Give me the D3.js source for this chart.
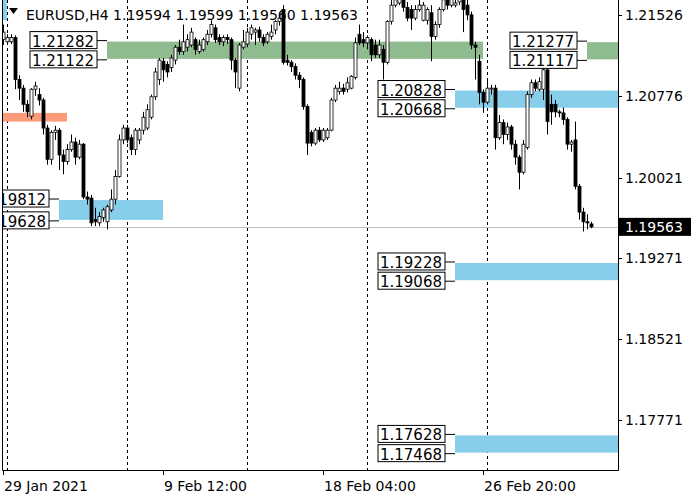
<!DOCTYPE html>
<html>
<head>
<meta charset="utf-8">
<script src="https://cdn.jsdelivr.net/npm/d3@7"></script>
<style>
  body { margin: 0; background: #fff; }
  text { font-family: "DejaVu Sans", sans-serif; }
</style>
</head>
<body>
<div id="chart"></div>
<script>
// DATA =============================================
const symbol = "EURUSD,H4";
const lastQuote = ["1.19594", "1.19599", "1.19560", "1.19563"];
const lastPrice = 1.19563;

const opens = [1.2130,1.2128,1.2128,1.2132,1.2093,1.2085,1.2070,1.2059,1.2084,1.2079,1.2074,1.2048,1.2019,1.2044,1.2046,1.2023,1.2017,1.2028,1.2035,1.2021,
  1.2033,1.1984,1.1983,1.1963,1.1960,1.1965,1.1961,1.1972,1.1982,1.2003,1.2037,1.2048,1.2039,1.2028,1.2037,1.2046,1.2048,1.2058,1.2077,1.2093,
  1.2110,1.2107,1.2104,1.2111,1.2123,1.2119,1.2123,1.2125,1.2130,1.2119,1.2121,1.2128,1.2135,1.2141,1.2132,1.2128,1.2132,1.2130,1.2111,1.2085,
  1.2123,1.2126,1.2135,1.2137,1.2139,1.2132,1.2128,1.2133,1.2139,1.2147,1.2158,1.2111,1.2109,1.2105,1.2097,1.2093,1.2068,1.2044,1.2034,1.2046,
  1.2037,1.2039,1.2046,1.2074,1.2082,1.2085,1.2084,1.2085,1.2095,1.2135,1.2130,1.2127,1.2130,1.2125,1.2116,1.2121,1.2109,1.2147,1.2162,1.2164,
  1.2169,1.2160,1.2158,1.2150,1.2158,1.2148,1.2148,1.2155,1.2133,1.2144,1.2158,1.2167,1.2162,1.2162,1.2165,1.2167,1.2162,1.2153,1.2125,1.2110,
  1.2081,1.2072,1.2084,1.2085,1.2039,1.2053,1.2042,1.2049,1.2033,1.2021,1.2007,1.2030,1.2079,1.2090,1.2084,1.2084,1.2102,1.2070,1.2070,1.2063,
  1.2062,1.2056,1.2033,1.2037,1.1994,1.1970,1.1961,1.1959];
const highs = [1.2144,1.2135,1.2135,1.2134,1.2097,1.2088,1.2074,1.2085,1.2091,1.2085,1.2076,1.2051,1.2046,1.2050,1.2048,1.2028,1.2033,1.2042,1.2039,1.2037,
  1.2034,1.1989,1.1986,1.1974,1.1970,1.1974,1.1977,1.1991,1.2009,1.2042,1.2051,1.2051,1.2042,1.2048,1.2048,1.2063,1.2070,1.2079,1.2104,1.2113,
  1.2113,1.2110,1.2116,1.2125,1.2130,1.2144,1.2135,1.2141,1.2132,1.2130,1.2132,1.2139,1.2148,1.2144,1.2135,1.2134,1.2135,1.2132,1.2113,1.2127,
  1.2139,1.2141,1.2144,1.2141,1.2142,1.2135,1.2137,1.2144,1.2148,1.2153,1.2162,1.2116,1.2111,1.2108,1.2100,1.2095,1.2070,1.2046,1.2048,1.2049,
  1.2048,1.2048,1.2076,1.2088,1.2091,1.2089,1.2095,1.2097,1.2132,1.2144,1.2137,1.2134,1.2132,1.2130,1.2130,1.2125,1.2148,1.2167,1.2172,1.2174,
  1.2176,1.2165,1.2162,1.2162,1.2167,1.2165,1.2160,1.2162,1.2147,1.2160,1.2172,1.2172,1.2174,1.2170,1.2176,1.2172,1.2169,1.2156,1.2128,1.2116,
  1.2084,1.2093,1.2088,1.2088,1.2060,1.2056,1.2053,1.2051,1.2037,1.2023,1.2037,1.2082,1.2093,1.2093,1.2095,1.2110,1.2104,1.2079,1.2074,1.2065,
  1.2067,1.2058,1.2037,1.2054,1.1996,1.1974,1.1968,1.1961];
const lows = [1.2125,1.2126,1.2126,1.2084,1.2074,1.2063,1.2058,1.2056,1.2078,1.2069,1.2042,1.2014,1.2014,1.2037,1.2009,1.2005,1.2014,1.2026,1.2014,1.2019,
  1.1982,1.1977,1.1957,1.1957,1.1957,1.1961,1.1954,1.1970,1.1977,1.2002,1.2033,1.2034,1.2023,1.2023,1.2033,1.2042,1.2046,1.2056,1.2074,1.2088,
  1.2091,1.2095,1.2100,1.2107,1.2116,1.2116,1.2119,1.2123,1.2116,1.2117,1.2119,1.2125,1.2132,1.2127,1.2125,1.2124,1.2126,1.2102,1.2085,1.2082,
  1.2121,1.2123,1.2130,1.2125,1.2128,1.2124,1.2126,1.2130,1.2135,1.2143,1.2107,1.2106,1.2100,1.2093,1.2085,1.2065,1.2023,1.2031,1.2032,1.2035,
  1.2035,1.2037,1.2045,1.2072,1.2079,1.2079,1.2081,1.2084,1.2093,1.2125,1.2123,1.2121,1.2110,1.2113,1.2113,1.2093,1.2107,1.2144,1.2160,1.2162,
  1.2156,1.2147,1.2139,1.2148,1.2156,1.2147,1.2144,1.2110,1.2130,1.2141,1.2156,1.2158,1.2160,1.2160,1.2162,1.2137,1.2148,1.2121,1.2093,1.2070,
  1.2062,1.2070,1.2079,1.2028,1.2037,1.2033,1.2037,1.2028,1.2014,1.1991,1.2005,1.2028,1.2076,1.2082,1.2082,1.2074,1.2042,1.2051,1.2058,1.2058,
  1.2051,1.2028,1.2026,1.1991,1.1963,1.1952,1.1954,1.1955];
const closes = [1.2137,1.2132,1.2132,1.2093,1.2085,1.2070,1.2063,1.2084,1.2087,1.2074,1.2048,1.2019,1.2044,1.2046,1.2023,1.2017,1.2028,1.2035,1.2021,1.2033,
  1.1984,1.1982,1.1960,1.1961,1.1966,1.1972,1.1975,1.1982,1.2003,1.2037,1.2048,1.2037,1.2028,1.2046,1.2046,1.2058,1.2065,1.2077,1.2100,1.2111,
  1.2102,1.2100,1.2113,1.2123,1.2119,1.2128,1.2130,1.2137,1.2121,1.2125,1.2130,1.2135,1.2144,1.2130,1.2128,1.2132,1.2130,1.2111,1.2100,1.2125,
  1.2128,1.2137,1.2141,1.2139,1.2132,1.2127,1.2135,1.2137,1.2147,1.2150,1.2109,1.2109,1.2105,1.2097,1.2093,1.2068,1.2034,1.2034,1.2046,1.2037,
  1.2046,1.2046,1.2074,1.2085,1.2085,1.2082,1.2090,1.2096,1.2127,1.2127,1.2127,1.2132,1.2116,1.2116,1.2125,1.2109,1.2147,1.2162,1.2167,1.2169,
  1.2160,1.2150,1.2150,1.2158,1.2162,1.2162,1.2158,1.2133,1.2144,1.2158,1.2167,1.2162,1.2170,1.2164,1.2172,1.2158,1.2153,1.2125,1.2123,1.2081,
  1.2072,1.2085,1.2085,1.2039,1.2053,1.2042,1.2049,1.2033,1.2021,1.2007,1.2033,1.2079,1.2090,1.2085,1.2091,1.2102,1.2054,1.2063,1.2063,1.2062,
  1.2056,1.2033,1.2035,1.1994,1.1970,1.1961,1.1960,1.19563];

// zones: [top, bottom, fromIndex, toIndex(or null = right edge), color, label side]
const zoneTops    = [1.21282, 1.21277, 1.20828, 1.19812, 1.19228, 1.17628, 1.2062];
const zoneBottoms = [1.21122, 1.21117, 1.20668, 1.19628, 1.19068, 1.17468, 1.2054];
const zoneFrom    = [26, 146, 113, 14, 113, 113, 0];
const zoneTo      = [120, null, null, 40, null, null, 16];
const zoneColors  = ["#8fbc8f", "#8fbc8f", "#87ceeb", "#87ceeb", "#87ceeb", "#87ceeb", "#fa9b7a"];
const zoneLabeled = [true, true, true, true, true, true, false];

const priceTicks = [1.21526, 1.20776, 1.20021, 1.19271, 1.18521, 1.17771];
const timeLabelIdx = [0, 40, 80, 120];
const timeLabels = ["29 Jan 2021", "9 Feb 12:00", "18 Feb 04:00", "26 Feb 20:00"];
const daySepIdx = [1, 31, 61, 91, 121];

// LAYOUT ===========================================
const width = 700, height = 500;
const plotLeft = 2, plotRight = 618, plotBottom = 470;

const svg = d3.select("#chart").append("svg")
  .attr("width", width).attr("height", height);

const x = d3.scaleLinear().domain([0, 1]).range([3, 7]);
const y = d3.scaleLinear().domain([1.21526, 1.17771]).range([15.3, 420]);

svg.append("defs").append("clipPath").attr("id", "plot")
  .append("rect").attr("x", plotLeft).attr("y", 0)
  .attr("width", plotRight - plotLeft).attr("height", plotBottom);

const plot = svg.append("g").attr("clip-path", "url(#plot)");

// day separators
plot.selectAll("line.sep").data(daySepIdx).join("line")
  .attr("x1", d => x(d) + 0.5).attr("x2", d => x(d) + 0.5)
  .attr("y1", 0).attr("y2", plotBottom)
  .attr("stroke", "#000").attr("stroke-dasharray", "3,3");

// zones
const zones = zoneTops.map((t, i) => ({
  top: t, bottom: zoneBottoms[i], from: zoneFrom[i], to: zoneTo[i],
  color: zoneColors[i], labeled: zoneLabeled[i]
}));

plot.selectAll("rect.zone").data(zones).join("rect")
  .attr("x", d => x(d.from))
  .attr("width", d => (d.to === null ? plotRight : x(d.to)) - x(d.from))
  .attr("y", d => y(d.top))
  .attr("height", d => y(d.bottom) - y(d.top))
  .attr("fill", d => d.color);

// bid line
plot.append("line")
  .attr("x1", plotLeft).attr("x2", plotRight)
  .attr("y1", Math.round(y(lastPrice)) + 0.5).attr("y2", Math.round(y(lastPrice)) + 0.5)
  .attr("stroke", "#c0c0c0");

// candles
const candles = closes.map((c, i) => ({ i, o: opens[i], h: highs[i], l: lows[i], c }));

const cg = plot.selectAll("g.candle").data(candles).join("g").attr("class", "candle");
cg.append("line")
  .attr("x1", d => x(d.i) + 0.5).attr("x2", d => x(d.i) + 0.5)
  .attr("y1", d => y(d.h)).attr("y2", d => y(d.l))
  .attr("stroke", "#000");
cg.append("rect")
  .attr("x", d => x(d.i) - 1)
  .attr("width", 3)
  .attr("y", d => y(Math.max(d.o, d.c)))
  .attr("height", d => Math.max(1, Math.abs(y(d.o) - y(d.c))))
  .attr("fill", d => d.c >= d.o ? "#fff" : "#000")
  .attr("stroke", "#000").attr("stroke-width", 0.8);

// zone labels
function labelBox(g, xr, yc, txt) {
  g.append("rect").attr("x", xr - 67).attr("y", yc - 9).attr("width", 67).attr("height", 17)
    .attr("fill", "#fff").attr("stroke", "#000");
  g.append("text").attr("x", xr - 3).attr("y", yc + 6).attr("text-anchor", "end")
    .attr("font-size", 15).text(txt);
}
zones.filter(d => d.labeled).forEach(d => {
  const zx = x(d.from);
  const xr = zx - 10;
  const g = plot.append("g");
  const yt = y(d.top) - 1, yb = y(d.bottom) + 1;
  g.append("path")
    .attr("d", `M${xr},${yt}H${zx}M${xr},${yb}H${zx}`)
    .attr("stroke", "#000").attr("fill", "none");
  labelBox(g, xr, yt, d.top.toFixed(5));
  labelBox(g, xr, yb, d.bottom.toFixed(5));
});

// frame
svg.append("path")
  .attr("d", `M${plotLeft + 0.5},0V${plotBottom + 0.5}H${plotRight + 0.5}V0`)
  .attr("fill", "none").attr("stroke", "#000");

// price axis
const pa = svg.append("g");
pa.selectAll("line").data(priceTicks).join("line")
  .attr("x1", plotRight).attr("x2", plotRight + 4)
  .attr("y1", d => Math.round(y(d)) + 0.5).attr("y2", d => Math.round(y(d)) + 0.5)
  .attr("stroke", "#000");
pa.selectAll("text").data(priceTicks).join("text")
  .attr("x", 625).attr("y", d => y(d) + 5)
  .attr("font-size", 14).text(d => d.toFixed(5));

svg.append("rect").attr("x", plotRight + 1).attr("y", y(lastPrice) - 9)
  .attr("width", 72).attr("height", 18).attr("fill", "#000");
svg.append("text").attr("x", 625).attr("y", y(lastPrice) + 5)
  .attr("font-size", 14).attr("fill", "#fff").text(lastPrice.toFixed(5));

// time axis
const ta = svg.append("g");
ta.selectAll("line").data(timeLabelIdx).join("line")
  .attr("x1", d => x(d) + 0.5).attr("x2", d => x(d) + 0.5)
  .attr("y1", plotBottom).attr("y2", plotBottom + 5).attr("stroke", "#000");
ta.selectAll("text").data(timeLabelIdx).join("text")
  .attr("x", d => x(d) + 1).attr("y", 491)
  .attr("font-size", 14).text((d, i) => timeLabels[i]);

// header
svg.append("rect").attr("x", 3).attr("y", 0).attr("width", 4).attr("height", 20).attr("fill", "#87ceeb");
svg.append("path").attr("d", "M9,8H18L13.5,14Z").attr("fill", "#000");
svg.append("text").attr("x", 26).attr("y", 20).attr("font-size", 14)
  .text(symbol + "  " + lastQuote.join(" "));
</script>
</body>
</html>
